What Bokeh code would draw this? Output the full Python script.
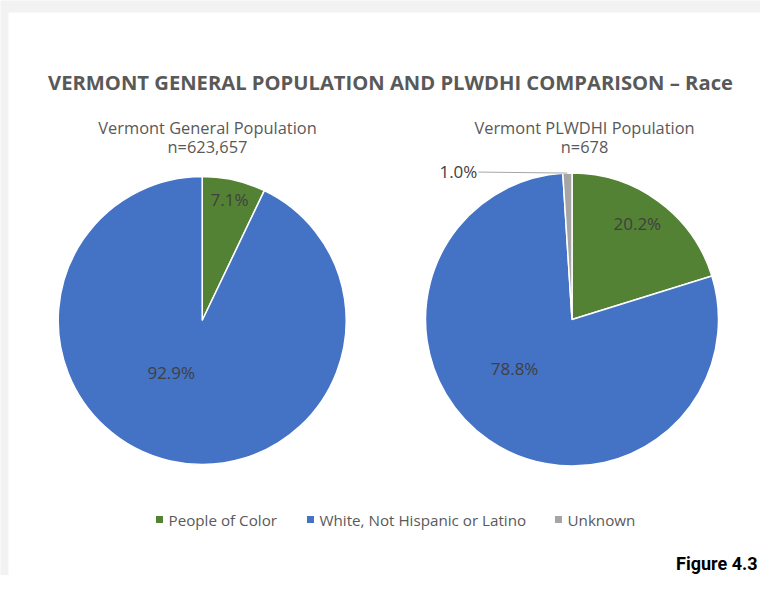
import numpy as np
from bokeh.plotting import figure
from bokeh.models import Range1d
from bokeh.core.properties import value
from bokeh.embed import file_html
from bokeh.resources import INLINE

# ---------------- data ----------------
categories = ["People of Color", "White, Not Hispanic or Latino", "Unknown"]
colors = ["#548235", "#4472C4", "#A5A5A5"]
general_pct = [7.1, 92.9]
plwdhi_pct = [20.2, 78.8, 1.0]
chart_title = "VERMONT GENERAL POPULATION AND PLWDHI COMPARISON \u2013 Race"
general_title = ["Vermont General Population", "n=623,657"]
plwdhi_title = ["Vermont PLWDHI Population", "n=678"]
figure_label = "Figure 4.3"

# ---------------- layout ----------------
W, H = 760, 575
FONT = "Open Sans"
TXT = "#595959"
LBL = "#404040"

p = figure(width=W, height=H, output_backend="svg", toolbar_location=None,
           min_border=0, x_range=Range1d(0, W), y_range=Range1d(0, H))
p.axis.visible = False
p.grid.visible = False
p.outline_line_color = None
p.border_fill_color = "#f2f2f2"
p.background_fill_color = "#f2f2f2"

def py(y):
    return H - y

# white chart area
p.quad(left=[8], right=[765], top=[py(12)], bottom=[py(H + 20)],
       fill_color="white", line_color=None)

def txt(x, y, s, size, color=TXT, style="normal", align="center", font=FONT):
    p.text(x=[x], y=[py(y)], text=[s], text_font=value(font),
           text_font_size=f"{size}px", text_color=color, text_font_style=style,
           text_align=align, text_baseline="middle")

LBL_SIZE = "17px"

def pie(cx, cy, r, vals, cols, label_pos):
    vals = np.asarray(vals, dtype=float)
    cum = np.concatenate([[0], np.cumsum(vals)]) / vals.sum()
    start = np.pi / 2 - 2 * np.pi * cum[:-1]
    end = np.pi / 2 - 2 * np.pi * cum[1:]
    p.wedge(x=cx, y=py(cy), radius=r,
            start_angle=start, end_angle=end, direction="clock",
            fill_color=cols[:len(vals)], line_color="white", line_width=1.5)
    mids = (start + end) / 2
    for v, m, lp in zip(vals, mids, label_pos):
        frac, dang = lp
        a = m - np.deg2rad(dang)
        if frac is None:
            # outside label with leader line
            ex, ey = cx + r * np.cos(m), py(cy) + r * np.sin(m)
            tx = ex - 90
            p.line(x=[tx + 1, ex], y=[ey + 1, ey], line_color="#A6A6A6", line_width=1)
            p.text(x=[tx], y=[ey + 2], text=[f"{v:.1f}%"], text_font=value(FONT),
                   text_font_size=LBL_SIZE, text_color=LBL, text_align="right",
                   text_baseline="middle")
        else:
            lx = cx + frac * r * np.cos(a)
            ly = py(cy) + frac * r * np.sin(a)
            p.text(x=[lx], y=[ly], text=[f"{v:.1f}%"], text_font=value(FONT),
                   text_font_size=LBL_SIZE, text_color=LBL, text_align="center",
                   text_baseline="middle")

# title
txt(390, 81, chart_title, 20.2, style="bold")
# subtitles
txt(207, 127, general_title[0], 16.4)
txt(207, 146, general_title[1], 16.4)
txt(584, 127, plwdhi_title[0], 16.4)
txt(584, 146, plwdhi_title[1], 16.4)

pie(201.7, 320, 144, general_pct, colors, [(0.86, 0), (0.42, 18)])
pie(571.5, 319, 146.5, plwdhi_pct, colors, [(0.79, -2), (0.515, 15), (None, 0)])

# legend
leg_x = [159, 310, 558]
for xx, c, name in zip(leg_x, colors, categories):
    p.scatter(x=[xx], y=[py(519)], marker="square", size=7, fill_color=c, line_color=None)
    txt(xx + 9, 519, name, 15.2, align="left")

# figure label
txt(757, 563, figure_label, 18, color="#000000", style="bold", align="right", font="Roboto")

open("out.html", "w").write(file_html(p, INLINE))
